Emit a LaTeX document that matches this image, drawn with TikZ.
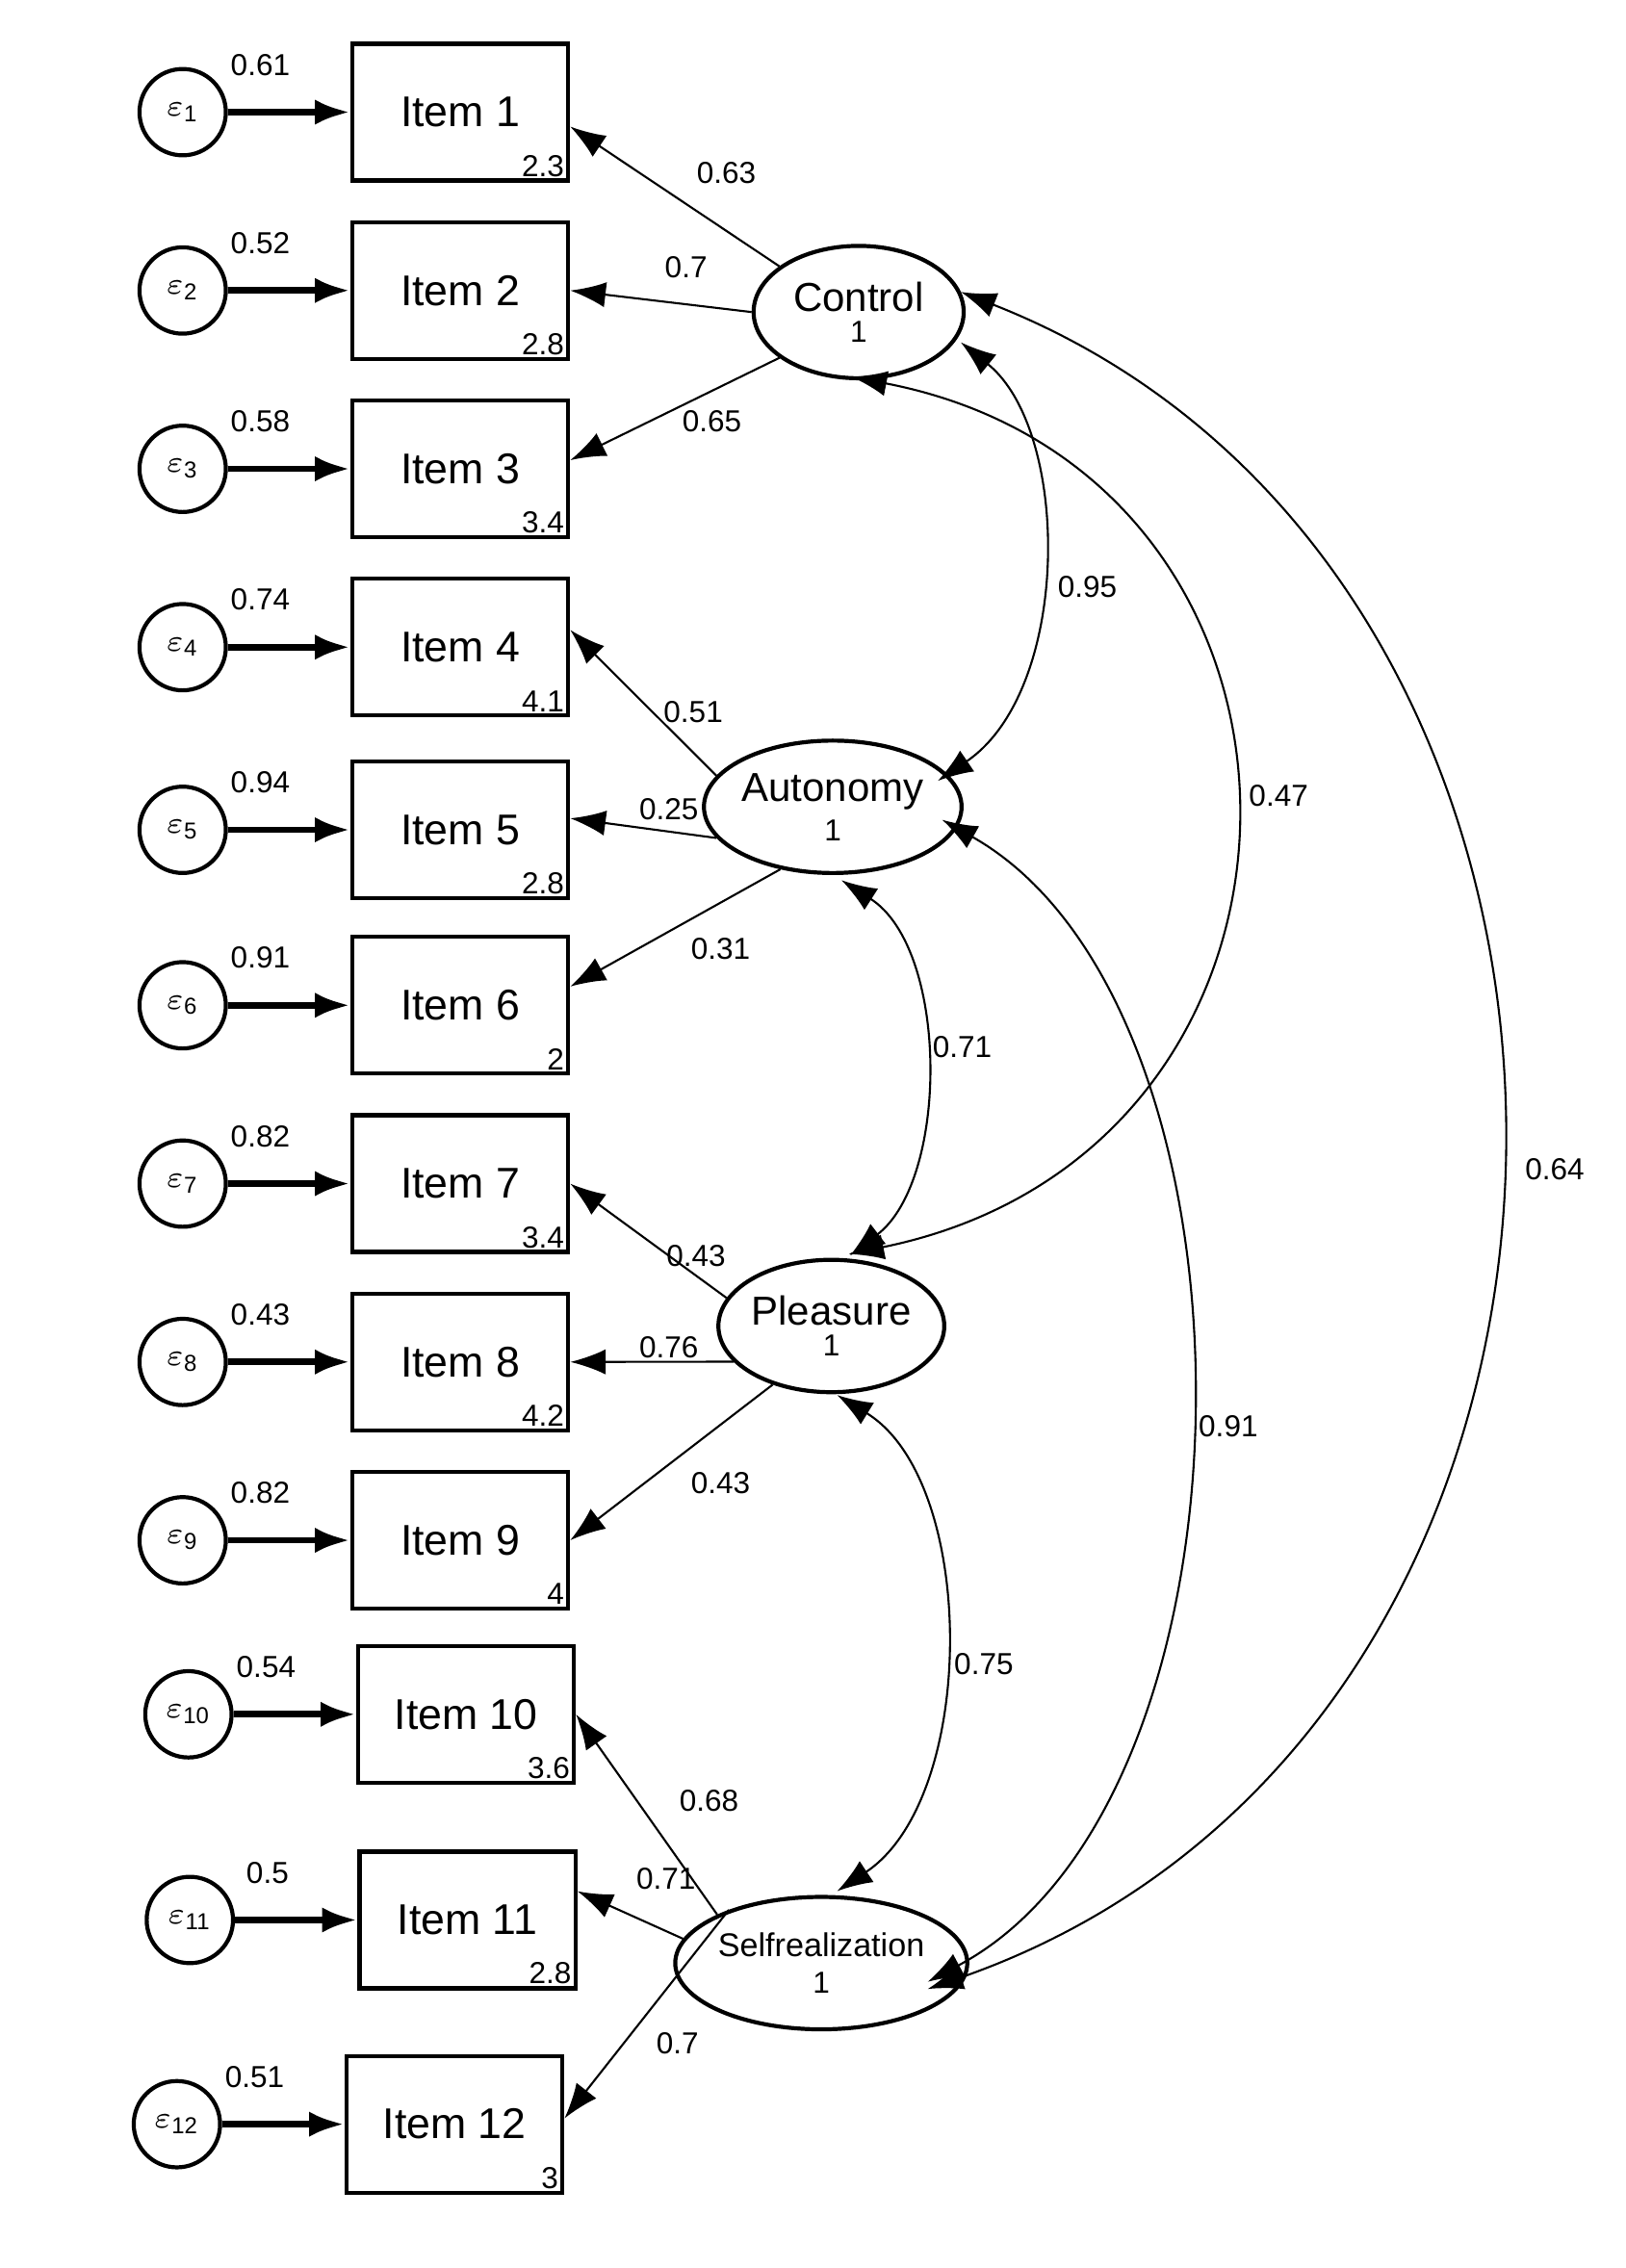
\documentclass[tikz,border=0pt]{standalone}
\usepackage{fontspec}
\setmainfont{Liberation Sans}
\usetikzlibrary{arrows.meta,shapes.geometric}
\begin{document}
\begin{tikzpicture}[x=0.01cm,y=-0.01cm,
  err/.style={circle,draw,thick,minimum size=0.6cm,inner sep=0pt,font=\fontsize{6.5}{7}\selectfont},
  box/.style={draw,thick,minimum width=1.5cm,minimum height=0.95cm,inner sep=0pt,font=\fontsize{8.5}{9}\selectfont},
  lat/.style={ellipse,draw,thick,minimum width=1.46cm,minimum height=0.92cm,inner sep=0pt,font=\fontsize{8}{9}\selectfont},
  num/.style={font=\fontsize{6}{7}\selectfont,inner sep=1pt},
  ea/.style={-{Latex[length=7pt,width=5pt]},line width=1.3pt},
  ld/.style={-{Latex[length=7pt,width=5pt]},thin},
  cv/.style={{Latex[length=7pt,width=5pt]}-{Latex[length=7pt,width=5pt]},thin}]
\useasboundingbox (0,0) rectangle (1130,1577);
\foreach \i/\y/\bx/\v/\m in {1/78/320/0.61/2.3,2/202/320/0.52/2.8,3/326/320/0.58/3.4,4/450/320/0.74/4.1,5/577/320/0.94/2.8,6/699/320/0.91/2,7/823/320/0.82/3.4,8/947/320/0.43/4.2,9/1071/320/0.82/4,10/1192/324/0.54/3.6,11/1335/325/0.5/2.8,12/1477/316/0.51/3}{
  \node[err] (e\i) at (\bx-193,\y) {$\varepsilon$\textsubscript{\i}};
  \node[box] (b\i) at (\bx,\y) {Item \i};
  \draw[ea] (e\i) -- (b\i);
  \node[num] at (\bx-139,\y-33) {\v};
  \node[num,anchor=south east] at (b\i.south east) {\m};
}
\node[lat] (C) at (597,217) {\shortstack{Control\\[-1pt]{\fontsize{6}{6}\selectfont 1}}};
\node[lat] (A) at (579,561) {\shortstack{Autonomy\\[-1pt]{\fontsize{6}{6}\selectfont 1}}};
\node[lat] (P) at (578,922) {\shortstack{Pleasure\\[-1pt]{\fontsize{6}{6}\selectfont 1}}};
\node[lat] (S) at (571,1365) {\shortstack{{\fontsize{6.5}{7}\selectfont Selfrealization}\\[0pt]{\fontsize{6}{6}\selectfont 1}}};
% loadings
\draw[ld] (C.150) -- (b1.north east|-0,88); \node[num] at (505,120) {0.63};
\draw[ld] (C.west) -- (b2.east); \node[num] at (477,186) {0.7};
\draw[ld] (C.210) -- (b3.east|-0,320); \node[num] at (495,293) {0.65};
\draw[ld] (A.165) -- (b4.east|-0,438); \node[num] at (482,495) {0.51};
\draw[ld] (A.195) -- (b5.east|-0,569); \node[num] at (465,563) {0.25};
\draw[ld] (A.230) -- (b6.east|-0,686); \node[num] at (501,660) {0.31};
\draw[ld] (P.165) -- (b7.east|-0,823); \node[num] at (484,873) {0.43};
\draw[ld] (P.200) -- (b8.east|-0,947); \node[num] at (465,937) {0.76};
\draw[ld] (P.225) -- (b9.east|-0,1071); \node[num] at (501,1031) {0.43};
\draw[ld] (S.155) -- (b10.east|-0,1192); \node[num] at (493,1252) {0.68};
\draw[ld] (S.170) -- (b11.east|-0,1315); \node[num] at (463,1306) {0.71};
\draw[ld] (S.150) -- (b12.east|-0,1473); \node[num] at (471,1421) {0.7};
% covariances
\coordinate (c1) at (668,238); \coordinate (a1) at (652,543);
\draw[cv] (c1) .. controls (745,300) and (745,480) .. (a1); \node[num] at (756,408) {0.95};
\coordinate (c2) at (592,262); \coordinate (p2) at (590,872);
\draw[cv] (c2) .. controls (945,330) and (945,800) .. (p2); \node[num] at (889,553) {0.47};
\coordinate (c3) at (668,203); \coordinate (s3) at (645,1383);
\draw[cv] (c3) .. controls (1170,400) and (1170,1200) .. (s3); \node[num] at (1081,813) {0.64};
\coordinate (a4) at (585,612); \coordinate (p4) at (591,873);
\draw[cv] (a4) .. controls (660,660) and (660,820) .. (p4); \node[num] at (669,728) {0.71};
\coordinate (a5) at (655,570); \coordinate (s5) at (645,1378);
\draw[cv] (a5) .. controls (885,700) and (885,1250) .. (s5); \node[num] at (854,992) {0.91};
\coordinate (p6) at (582,970); \coordinate (s6) at (582,1315);
\draw[cv] (p6) .. controls (680,1030) and (680,1250) .. (s6); \node[num] at (684,1157) {0.75};
\end{tikzpicture}
\end{document}
